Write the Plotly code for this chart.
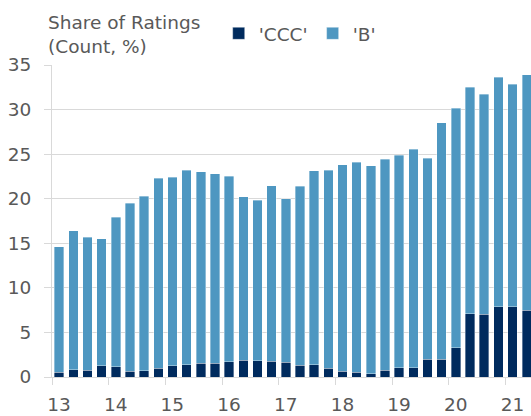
import plotly.graph_objects as go

quarters = [f"{y}Q{q}" for y in range(2013, 2022) for q in range(1, 5)][:34]
ccc = [0.52, 0.79, 0.75, 1.24,
       1.16, 0.67, 0.71, 1.00,
       1.24, 1.39, 1.57, 1.57,
       1.69, 1.87, 1.80, 1.78,
       1.65, 1.31, 1.35, 1.01,
       0.67, 0.52, 0.34, 0.75,
       1.05, 1.05, 2.00, 1.98,
       3.26, 7.10, 7.04, 7.87,
       7.87, 7.50]
total = [14.6, 16.4, 15.7, 15.5,
         17.9, 19.5, 20.3, 22.3,
         22.4, 23.2, 23.0, 22.8,
         22.5, 20.2, 19.85, 21.45,
         20.0, 21.4, 23.15, 23.2,
         23.8, 24.1, 23.7, 24.4,
         24.9, 25.55, 24.55, 28.5,
         30.15, 32.5, 31.7, 33.6,
         32.85, 33.9]
b_only = [round(t - c, 2) for t, c in zip(total, ccc)]
year_ticks = list(range(13, 22))
year_labels = [str(y) for y in year_ticks]

# position each quarter inside its year (years on a numeric axis)
xpos = [int(q[2:4]) + (int(q[-1]) - 0.5) / 4 for q in quarters]

TEXT = "#595959"
GRID = "#d9d9d9"
FONT = "DejaVu Sans"
FS = 18.5
EDGE = dict(color="rgba(255,255,255,0.45)", width=0.8)

fig = go.Figure()
fig.add_trace(go.Bar(x=xpos, y=ccc, name="'CCC'", marker=dict(color="#002b5e", line=EDGE)))
fig.add_trace(go.Bar(x=xpos, y=b_only, name="'B'", marker=dict(color="#4e97c1", line=EDGE)))

fig.update_layout(
    barmode="stack",
    bargap=0.33,
    width=531, height=416,
    margin=dict(l=52, r=0, t=65, b=39, autoexpand=False),
    paper_bgcolor="white", plot_bgcolor="white",
    font=dict(family=FONT, size=FS, color=TEXT),
    showlegend=True,
    legend=dict(orientation="h", x=0.348, xanchor="left", y=1.1, yanchor="middle",
                font=dict(size=FS, color=TEXT), traceorder="normal", bgcolor="rgba(0,0,0,0)"),
    xaxis=dict(range=[13, 21.45], tickvals=year_ticks, ticktext=year_labels,
               ticks="outside", ticklen=7, tickcolor=GRID, tickwidth=1,
               showline=True, linecolor=GRID, linewidth=1,
               showgrid=False, zeroline=False, ticklabelshift=7, ticklabelstandoff=4),
    yaxis=dict(range=[0, 35], dtick=5, ticks="outside", ticklen=7, tickcolor=GRID,
               showline=True, linecolor=GRID, gridcolor=GRID, gridwidth=1,
               zeroline=False, ticklabelstandoff=9),
    annotations=[dict(text="Share of Ratings<br>(Count, %)", xref="paper", yref="paper",
                      x=-0.013, y=1.177, xanchor="left", yanchor="top", align="left",
                      showarrow=False, font=dict(size=FS, color=TEXT))],
)

fig.write_html("out.html",
               config={"displayModeBar": False},
               post_script="document.body.style.margin='0';document.body.style.overflow='hidden';")
